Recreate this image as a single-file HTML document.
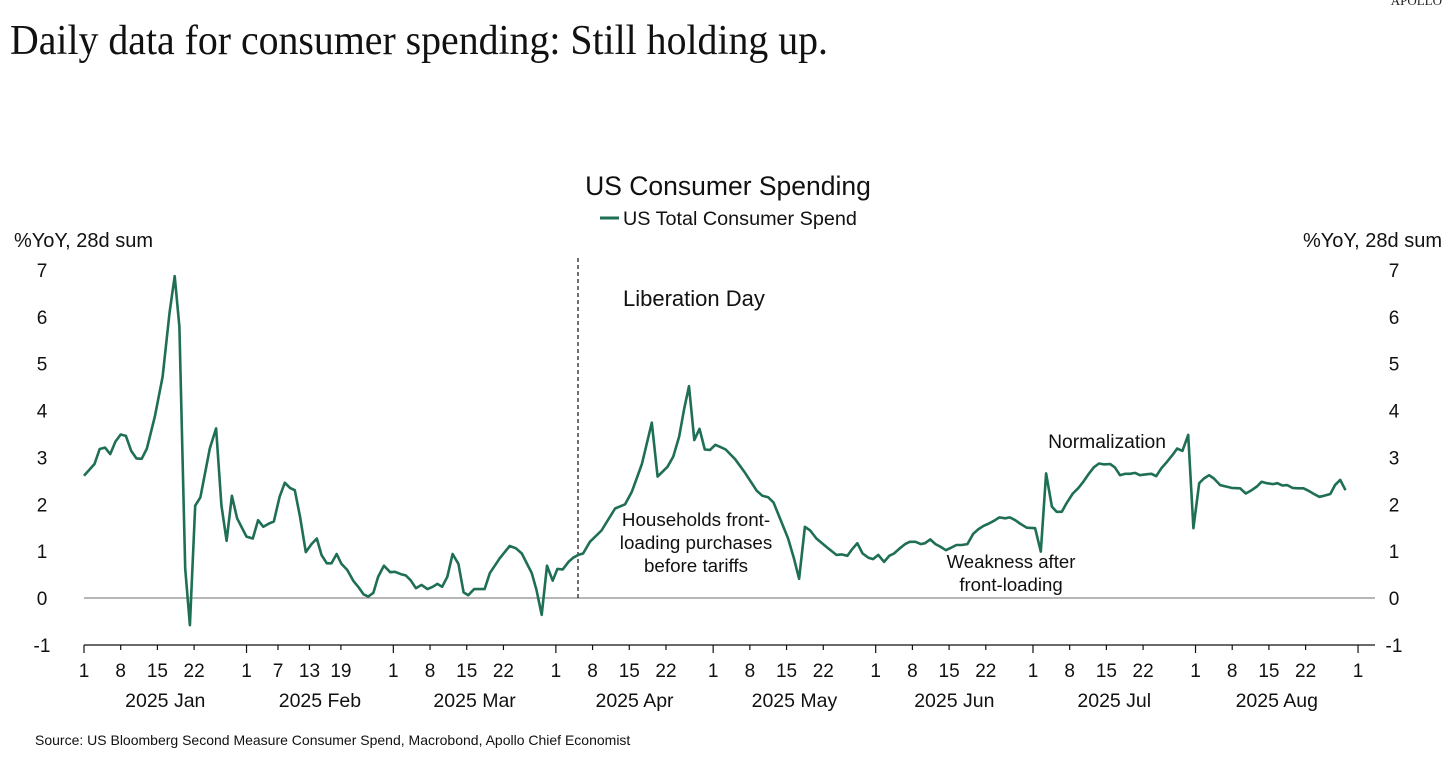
<!DOCTYPE html>
<html><head><meta charset="utf-8"><style>
body{margin:0;background:#fff;}
svg{display:block;font-family:"Liberation Sans","DejaVu Sans",sans-serif;}
</style></head><body>
<svg id="chart" width="1456" height="769" viewBox="0 0 1456 769" xmlns="http://www.w3.org/2000/svg">
<text x="1442" y="5" font-family="Liberation Serif,serif" font-size="13" text-anchor="end" fill="#222">APOLLO</text>
<text x="10" y="54" font-family="Liberation Serif,serif" font-size="42" textLength="818" lengthAdjust="spacingAndGlyphs" fill="#111">Daily data for consumer spending: Still holding up.</text>
<text x="728" y="195" font-size="26.5" text-anchor="middle" fill="#111">US Consumer Spending</text>
<line x1="600" y1="218" x2="619" y2="218" stroke="#1f6e56" stroke-width="3"/>
<text x="623" y="225" font-size="19.8" fill="#111">US Total Consumer Spend</text>
<text x="14" y="247" font-size="20" fill="#111">%YoY, 28d sum</text>
<text x="1442" y="247" font-size="20" text-anchor="end" fill="#111">%YoY, 28d sum</text>
<g id="yaxes"></g>
<g id="xaxis"></g>
<line x1="84" y1="598" x2="1375" y2="598" stroke="#8c8c8c" stroke-width="1.3"/>
<line x1="578" y1="258" x2="578" y2="600" stroke="#111" stroke-width="1.2" stroke-dasharray="4,3"/>
<path id="series" fill="none" stroke="#1f6e56" stroke-width="2.6" stroke-linejoin="round"/>
<text x="623" y="306" font-size="22" fill="#111">Liberation Day</text>
<g font-size="18.8" text-anchor="middle" fill="#111">
<text x="696" y="526">Households front-</text><text x="696" y="549">loading purchases</text><text x="696" y="572">before tariffs</text></g>
<g font-size="18.6" text-anchor="middle" fill="#111">
<text x="1011" y="568">Weakness after</text><text x="1011" y="591">front-loading</text></g>
<text x="1107" y="448" font-size="19.3" text-anchor="middle" fill="#111">Normalization</text>
<text x="35" y="745" font-size="14" fill="#111">Source: US Bloomberg Second Measure Consumer Spend, Macrobond, Apollo Chief Economist</text>
</svg>
<script>
const days=[0,2,3,4,5,6,7,8,9,10,11,12,13.5,15,16.3,17.3,18.2,19.3,20.2,21.2,22.2,24,25.2,26.2,27.2,28.2,29.2,31,32.2,33.2,34.2,35.3,36.2,37.3,38.3,39.3,40.2,41.2,42.3,43.4,44.4,45.3,46.3,47.2,48.2,49.1,50.2,51.4,52.3,53.3,54.2,55.2,56.1,57.2,58.4,59.3,60.4,61.4,62.3,63.3,64.4,65.5,66.5,67.4,68.3,69.3,70.3,71.4,72.4,73.3,74.4,75.4,76.4,77.4,79.3,81.2,82.4,83.5,85.4,86.3,87.3,88.3,89.4,90.3,91.3,92.4,93.3,94.3,95.2,96.5,98.7,101.3,103.2,104.5,106.4,108.3,109.4,111.3,112.4,113.5,114.5,115.4,116.4,117.4,118.4,119.4,120.4,121.4,122.4,124.2,126.1,128.3,129.4,130.5,131.5,133,134.3,135.4,136.4,137.5,138.5,139.7,141.6,143.5,144.5,145.6,146.5,147.5,148.5,149.6,150.5,151.5,152.6,153.6,154.5,155.6,156.6,157.5,158.6,159.6,160.4,161.4,162.4,163.4,164.4,165.5,166.4,167.4,168.5,169.6,170.6,171.6,172.6,173.6,174.6,175.7,176.6,177.6,178.5,179.8,181.4,182.5,183.5,184.6,185.5,186.5,187.4,188.6,189.6,190.6,191.7,192.6,193.6,194.5,195.7,196.6,197.6,198.6,199.5,200.5,201.4,202.6,203.6,204.5,205.5,206.6,207.6,208.5,209.5,210.6,211.6,212.7,213.6,214.6,215.5,216.7,217.8,218.9,220.5,221.6,222.7,223.7,224.6,225.6,226.8,227.6,228.6,229.5,230.5,231.6,232.6,233.7,234.6,235.6,236.5,237.7,238.6,239.6,240.6];
const values=[2.61,2.86,3.18,3.21,3.07,3.34,3.49,3.46,3.14,2.98,2.97,3.19,3.87,4.72,6.08,6.87,5.79,0.63,-0.58,1.97,2.15,3.19,3.62,1.98,1.22,2.18,1.70,1.31,1.27,1.66,1.52,1.59,1.63,2.16,2.46,2.35,2.30,1.74,0.98,1.15,1.27,0.92,0.74,0.74,0.94,0.73,0.60,0.36,0.24,0.08,0.03,0.11,0.45,0.69,0.55,0.56,0.51,0.48,0.38,0.21,0.28,0.19,0.24,0.30,0.24,0.45,0.94,0.73,0.12,0.06,0.19,0.19,0.19,0.53,0.85,1.11,1.06,0.95,0.53,0.17,-0.36,0.69,0.37,0.62,0.61,0.77,0.86,0.92,0.95,1.20,1.44,1.91,2.00,2.27,2.86,3.74,2.59,2.80,3.02,3.44,4.05,4.52,3.37,3.61,3.17,3.16,3.27,3.22,3.17,2.96,2.67,2.29,2.18,2.15,2.04,1.63,1.27,0.85,0.41,1.52,1.44,1.27,1.09,0.92,0.93,0.90,1.04,1.17,0.95,0.86,0.83,0.92,0.77,0.90,0.95,1.06,1.15,1.20,1.20,1.15,1.17,1.25,1.15,1.09,1.02,1.08,1.13,1.13,1.15,1.37,1.47,1.54,1.59,1.65,1.72,1.70,1.72,1.66,1.59,1.50,1.49,0.99,2.66,1.95,1.84,1.84,2.02,2.23,2.34,2.48,2.66,2.79,2.87,2.85,2.86,2.79,2.62,2.65,2.65,2.67,2.62,2.64,2.65,2.60,2.77,2.91,3.05,3.19,3.14,3.48,1.49,2.45,2.55,2.62,2.55,2.41,2.38,2.35,2.34,2.23,2.30,2.38,2.48,2.45,2.43,2.45,2.40,2.41,2.35,2.34,2.34,2.28,2.22,2.16,2.18,2.22,2.41,2.52,2.30];
const yTicks=[-1,0,1,2,3,4,5,6,7];
const xTickDays=[0,7,14,21,31,37,43,49,59,66,73,80,90,97,104,111,120,127,134,141,151,158,165,172,181,188,195,202,212,219,226,233,243];
const xTickLabels=["1","8","15","22","1","7","13","19","1","8","15","22","1","8","15","22","1","8","15","22","1","8","15","22","1","8","15","22","1","8","15","22","1"];
const monthDays=[0,31,59,90,120,151,181,212,243];
const monthLabels=["2025 Jan","2025 Feb","2025 Mar","2025 Apr","2025 May","2025 Jun","2025 Jul","2025 Aug"];
const X=d=>84+d*5.243, Y=v=>598-v*46.86;
const NS="http://www.w3.org/2000/svg";
function mk(t,a,p){const e=document.createElementNS(NS,t);for(const k in a)e.setAttribute(k,a[k]);p.appendChild(e);return e;}
const ya=document.getElementById('yaxes');
yTicks.forEach(v=>{
 let t=mk('text',{x:42,y:Y(v)+7,'font-size':19,'text-anchor':'middle',fill:'#111'},ya);t.textContent=v;
 
 
 let r=mk('text',{x:1394,y:Y(v)+7,'font-size':19,'text-anchor':'middle',fill:'#111'},ya);r.textContent=v;
 
 
});
const xa=document.getElementById('xaxis');
const ax=mk('line',{x1:84,y1:645,x2:1375,y2:645,stroke:'#111','stroke-width':1.2},xa);


xTickDays.forEach((d,i)=>{
 const major=monthDays.includes(d);
 const tk=mk('line',{x1:X(d),y1:645,x2:X(d),y2:major?653:650,stroke:'#111','stroke-width':1.2},xa);
 
 
 const t=mk('text',{x:X(d),y:677,'font-size':19,'text-anchor':'middle',fill:'#111'},xa);t.textContent=xTickLabels[i];
 
 
});
monthLabels.forEach((m,i)=>{
 const t=mk('text',{x:X((monthDays[i]+monthDays[i+1])/2),y:707,'font-size':19.5,'text-anchor':'middle',fill:'#111'},xa);t.textContent=m;
 
 
});
document.getElementById('series').setAttribute('d',days.map((d,i)=>(i?'L':'M')+X(d).toFixed(1)+','+Y(values[i]).toFixed(1)).join(''));
</script>
</body></html>
